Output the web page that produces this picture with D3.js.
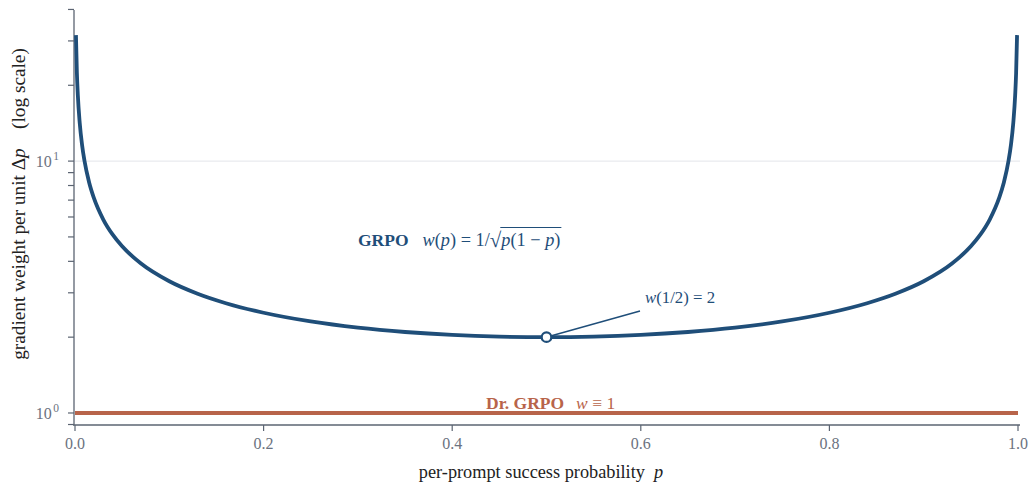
<!DOCTYPE html>
<html>
<head>
<meta charset="utf-8">
<script src="https://cdn.jsdelivr.net/npm/d3@7"></script>
<style>
  html, body { margin: 0; padding: 0; background: #fff; }
  svg { display: block; font-family: "Liberation Serif", "DejaVu Serif", serif; }
  svg text { white-space: pre; }
</style>
</head>
<body>
<svg id="chart" width="1032" height="485"></svg>
<script>
// Per-prompt success probability p and the GRPO gradient weight w(p)
const pValues = [
  0.001, 0.002, 0.003, 0.005, 0.0075, 0.01, 0.015, 0.02, 0.03, 0.04, 0.05, 0.07,
  0.10, 0.13, 0.16, 0.20, 0.25, 0.30, 0.35, 0.40, 0.45, 0.50,
  0.55, 0.60, 0.65, 0.70, 0.75, 0.80, 0.84, 0.87, 0.90,
  0.93, 0.95, 0.96, 0.97, 0.98, 0.985, 0.99, 0.9925, 0.995, 0.997, 0.998, 0.999
];
const grpoWeight = [
  31.64, 22.38, 18.28, 14.18, 11.59, 10.05, 8.227, 7.143, 5.862, 5.103, 4.588, 3.919,
  3.333, 2.974, 2.728, 2.500, 2.309, 2.182, 2.097, 2.041, 2.010, 2.000,
  2.010, 2.041, 2.097, 2.182, 2.309, 2.500, 2.728, 2.974, 3.333,
  3.919, 4.588, 5.103, 5.862, 7.143, 8.227, 10.05, 11.59, 14.18, 18.28, 22.38, 31.64
];
// Dr. GRPO uses a constant weight
const drGrpoP = [0, 1];
const drGrpoWeight = [1, 1];
// Highlighted minimum
const minPoint = { p: 0.5, w: 2 };

const xTicks = [0, 0.2, 0.4, 0.6, 0.8, 1.0];
const yMajorTicks = [1, 10];
const yMinorTicks = [0.9, 2, 3, 4, 5, 6, 7, 8, 9, 20, 30, 40];

const colGrpo = "#1f4e79";
const colDr = "#b8644a";
const colAxis = "#5b6472";
const colTick = "#6b7280";

const svg = d3.select("#chart");
const x = d3.scaleLinear().domain([0, 1]).range([75, 1018]);
const y = d3.scaleLog().domain([0.896, 39.8]).range([425, 10]);

// grid line at the decade
svg.append("g").selectAll("line").data([10]).join("line")
  .attr("x1", x(0)).attr("x2", x(1) + 2)
  .attr("y1", d => y(d)).attr("y2", d => y(d))
  .attr("stroke", "#e3e5ea").attr("stroke-width", 1);

// y axis
const yAxis = svg.append("g").attr("transform", `translate(${x(0) - 1},0)`);
yAxis.append("line").attr("x1", 0).attr("x2", 0).attr("y1", y.range()[1]).attr("y2", y.range()[0])
  .attr("stroke", colAxis).attr("stroke-width", 1.3);
yAxis.selectAll("line.tick").data(yMajorTicks.concat(yMinorTicks)).join("line")
  .attr("class", "tick")
  .attr("x1", -6).attr("x2", 0)
  .attr("y1", d => y(d)).attr("y2", d => y(d))
  .attr("stroke", colAxis).attr("stroke-width", 1.2);
const yLab = yAxis.selectAll("text").data(yMajorTicks).join("text")
  .attr("x", -15).attr("y", d => y(d) + 6)
  .attr("text-anchor", "end").attr("fill", colTick).attr("font-size", 16);
yLab.append("tspan").text("10");
yLab.append("tspan").attr("dx", 1.5).attr("dy", -7).attr("font-size", 11.5).text(d => Math.round(Math.log10(d)));

// x axis
const xAxis = svg.append("g").attr("transform", `translate(0,${y.range()[0]})`);
xAxis.append("line").attr("x1", x(0) - 2).attr("x2", x(1) + 2).attr("y1", 0).attr("y2", 0)
  .attr("stroke", colAxis).attr("stroke-width", 1.3);
xAxis.selectAll("line.tick").data(xTicks).join("line")
  .attr("class", "tick")
  .attr("x1", d => x(d)).attr("x2", d => x(d)).attr("y1", 0).attr("y2", 6)
  .attr("stroke", colAxis).attr("stroke-width", 1.2);
xAxis.selectAll("text").data(xTicks).join("text")
  .attr("x", d => x(d)).attr("y", 24)
  .attr("text-anchor", "middle").attr("fill", colTick).attr("font-size", 16)
  .text(d => d3.format(".1f")(d));

// axis titles
const xt = svg.append("text").attr("x", 541).attr("y", 478).attr("text-anchor", "middle")
  .attr("font-size", 18.3).attr("fill", "#222");
xt.append("tspan").text("per-prompt success probability  ");
xt.append("tspan").attr("font-style", "italic").text("p");

const yt = svg.append("text").attr("transform", "translate(25,204) rotate(-90)")
  .attr("text-anchor", "middle").attr("font-size", 19.3).attr("fill", "#222");
yt.append("tspan").text("gradient weight per unit \u0394");
yt.append("tspan").attr("font-style", "italic").text("p");
yt.append("tspan").text("    (log scale)");

// Dr. GRPO constant line
svg.append("path")
  .datum(drGrpoP.map((p, i) => [p, drGrpoWeight[i]]))
  .attr("d", d3.line().x(d => x(d[0])).y(d => y(d[1])))
  .attr("stroke", colDr).attr("stroke-width", 4).attr("fill", "none");

// GRPO curve
svg.append("path")
  .datum(pValues.map((p, i) => [p, grpoWeight[i]]))
  .attr("d", d3.line().x(d => x(d[0])).y(d => y(d[1])).curve(d3.curveMonotoneX))
  .attr("stroke", colGrpo).attr("stroke-width", 3.8).attr("fill", "none")
  .attr("stroke-linejoin", "round");

// annotation of the minimum
svg.append("line")
  .attr("x1", x(minPoint.p) + 5).attr("y1", y(minPoint.w) - 1.5)
  .attr("x2", 640).attr("y2", 311)
  .attr("stroke", colGrpo).attr("stroke-width", 1.5);
svg.append("circle")
  .attr("cx", x(minPoint.p)).attr("cy", y(minPoint.w)).attr("r", 4.8)
  .attr("fill", "#fff").attr("stroke", colGrpo).attr("stroke-width", 2.2);
const ann = svg.append("text").attr("x", 645).attr("y", 303).attr("font-size", 16.8).attr("fill", colGrpo);
ann.append("tspan").attr("font-style", "italic").text("w");
ann.append("tspan").text("(1/2) = 2");

// inline text builder: pieces placed one after another
function inlineLabel(x0, yb, size, color, pieces) {
  let cx = x0;
  const g = svg.append("g");
  const nodes = [];
  pieces.forEach(pc => {
    const t = g.append("text").attr("x", cx).attr("y", yb + (pc.dy || 0))
      .attr("font-size", pc.size || size).attr("fill", color)
      .attr("font-weight", pc.bold ? "bold" : null)
      .attr("font-style", pc.italic ? "italic" : null)
      .text(pc.t);
    const w = t.node().getComputedTextLength();
    nodes.push({ x: cx, w });
    cx += w + (pc.gap || 0);
  });
  return { g, nodes, end: cx };
}

// GRPO label with radical
const grpo = inlineLabel(358, 246, 18.3, colGrpo, [
  { t: "GRPO", bold: true, size: 17.5, gap: 14 },
  { t: "w", italic: true },
  { t: "(" },
  { t: "p", italic: true },
  { t: ") = 1/" },
  { t: "\u221A", size: 21, dy: 1 },
  { t: "p", italic: true },
  { t: "(1 \u2212 " },
  { t: "p", italic: true },
  { t: ")" }
]);
const radStart = grpo.nodes[5].x + grpo.nodes[5].w - 1;
grpo.g.append("line")
  .attr("x1", radStart).attr("x2", grpo.end + 1)
  .attr("y1", 227.5).attr("y2", 227.5)
  .attr("stroke", colGrpo).attr("stroke-width", 1.2);

// Dr. GRPO label
inlineLabel(486, 409, 17.5, colDr, [
  { t: "Dr. GRPO", bold: true, gap: 12 },
  { t: "w", italic: true },
  { t: " \u2261 1" }
]);
</script>
</body>
</html>
